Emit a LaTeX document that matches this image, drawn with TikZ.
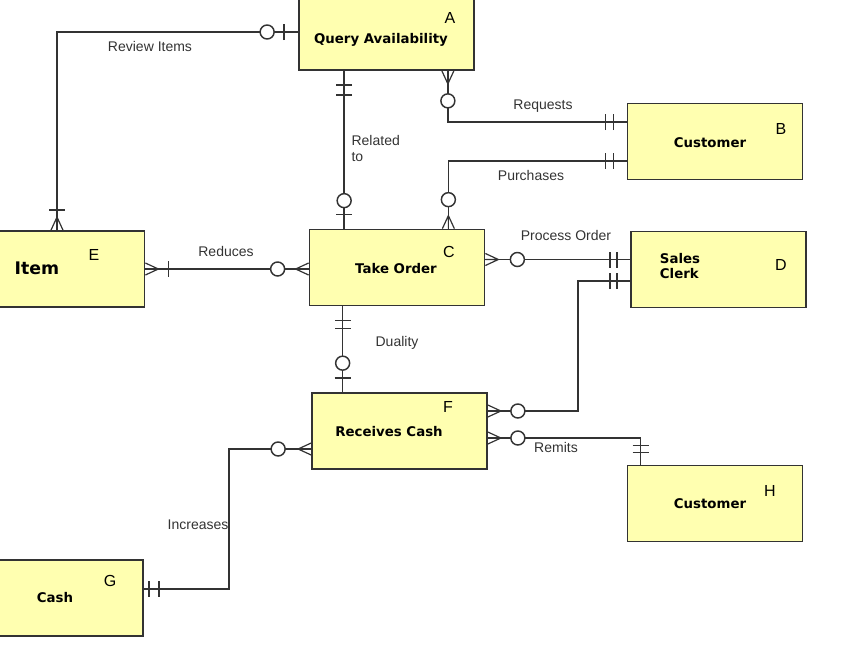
\documentclass[tikz,border=0pt]{standalone}
\usepackage{fontspec}
\setmainfont{Liberation Sans}
\newfontfamily\boxfont{DejaVu Sans}
\usepackage{tikz}
\usetikzlibrary{calc}
\definecolor{entfill}{HTML}{FFFFB0}
\definecolor{ink}{HTML}{333333}

\begin{document}
\begin{tikzpicture}[x=0.75pt,y=-0.75pt,
    entity/.style={draw=ink,fill=entfill,line width=1.3pt,minimum width=131.25pt,minimum height=57pt,inner sep=0pt},
    title/.style={font=\boxfont\bfseries\fontsize{10}{11.5}\selectfont,align=left,inner sep=0pt},
    tag/.style={font=\fontsize{12}{12}\selectfont,inner sep=0pt},
    rel/.style={font=\fontsize{10.5}{11.5}\selectfont,text=ink,align=left,inner sep=1pt},
    link/.style={draw=ink,line width=1.2pt},
    pics/crow/.style={code={\draw[ink,line width=0.9pt] (0,-6)--(13,0)--(0,6) (0,0)--(13,0);}},
    pics/bar/.style={code={\draw[ink,line width=1.1pt] (#1,-8)--(#1,8);}},
    pics/ring/.style={code={\draw[ink,line width=1.1pt,fill=white] (#1,0) circle[radius=7];}}]
  \useasboundingbox (0,0) rectangle (859,671);

  % entities
  \node[entity] (A) at (386.5,32) {};
  \node[entity] (B) at (715,141.5) {};
  \node[entity] (C) at (397,267.5) {};
  \node[entity] (D) at (718.5,269.5) {};
  \node[entity] (E) at (57,269) {};
  \node[entity] (F) at (399.5,431) {};
  \node[entity] (G) at (55.5,598) {};
  \node[entity] (H) at (715,503.5) {};

  \node[title] (At) at (381,40) {Query Availability};
  \node[title] (Bt) at (710,143) {Customer};
  \node[title] (Ct) at (396,269) {Take Order};
  \node[title] (Dt) at (680,266) {Sales\\Clerk};
  \node[title,font=\boxfont\bfseries\fontsize{13}{14}\selectfont] (Et) at (37,268) {Item};
  \node[title] (Ft) at (389,432) {Receives Cash};
  \node[title] (Gt) at (55,598) {Cash};
  \node[title] (Ht) at (710,504) {Customer};

  \foreach \n/\x/\y in {A/450/18,B/781/129,C/449/252,D/781/265,E/94/255,F/448/407,G/110/581,H/770/491}{
    \node[tag] (tag\n) at (\x,\y) {\n};
  }

  % Review Items
  \draw[link] (A.west) -| (E.north);
  \pic[rotate=180] at (A.west) {bar=14};
  \pic[rotate=180] at (A.west) {ring=31};
  \pic[rotate=90] at (E.north) {crow};
  \pic[rotate=90] at (E.north) {bar=20};

  % Related to
  \coordinate (a1) at ($(A.south west)+(46,0)$);
  \coordinate (c1) at (a1 |- C.north);
  \draw[link] (a1) -- (c1);
  \pic[rotate=-90] at (a1) {bar=14};
  \pic[rotate=-90] at (a1) {bar=24};
  \pic[rotate=90] at (c1) {bar=14};
  \pic[rotate=90] at (c1) {ring=28};

  % Requests
  \coordinate (a2) at ($(A.south east)+(-27,0)$);
  \coordinate (b1) at ($(B.west)+(0,-19.5)$);
  \draw[link] (a2) |- (b1);
  \pic[rotate=-90] at (a2) {crow};
  \pic[rotate=-90] at (a2) {ring=30};
  \pic[rotate=180] at (b1) {bar=13};
  \pic[rotate=180] at (b1) {bar=21};

  % Purchases
  \coordinate (c2) at ($(C.north east)+(-37,0)$);
  \coordinate (b2) at ($(B.west)+(0,19.5)$);
  \draw[link] (c2) |- (b2);
  \pic[rotate=90] at (c2) {crow};
  \pic[rotate=90] at (c2) {ring=29};
  \pic[rotate=180] at (b2) {bar=13};
  \pic[rotate=180] at (b2) {bar=21};

  % Reduces
  \coordinate (c3) at (E.east -| C.west);
  \draw[link] (E.east) -- (c3);
  \pic at (E.east) {crow};
  \pic at (E.east) {bar=23};
  \pic[rotate=180] at (c3) {crow};
  \pic[rotate=180] at (c3) {ring=31};

  % Process Order
  \coordinate (c4) at ($(C.east)+(0,-8)$);
  \coordinate (d1) at (c4 -| D.west);
  \draw[link] (c4) -- (d1);
  \pic at (c4) {crow};
  \pic at (c4) {ring=32};
  \pic[rotate=180] at (d1) {bar=13};
  \pic[rotate=180] at (d1) {bar=20};

  % Duality
  \coordinate (c5) at ($(C.south west)+(34,0)$);
  \coordinate (f1) at (c5 |- F.north);
  \draw[link] (c5) -- (f1);
  \pic[rotate=-90] at (c5) {bar=14};
  \pic[rotate=-90] at (c5) {bar=22};
  \pic[rotate=90] at (f1) {bar=14};
  \pic[rotate=90] at (f1) {ring=29};

  % Receives Cash -- Sales Clerk
  \coordinate (f2) at ($(F.east)+(0,-20)$);
  \coordinate (d2) at ($(D.west)+(0,11.5)$);
  \draw[link] (f2) -| ($(d2)+(-52,0)$) |- (d2);
  \pic at (f2) {crow};
  \pic at (f2) {ring=30};
  \pic[rotate=180] at (d2) {bar=13};
  \pic[rotate=180] at (d2) {bar=20};

  % Remits
  \coordinate (f3) at ($(F.east)+(0,7)$);
  \coordinate (h1) at ($(H.north west)+(14,0)$);
  \draw[link] (f3) -| (h1);
  \pic at (f3) {crow};
  \pic at (f3) {ring=30};
  \pic[rotate=90] at (h1) {bar=12};
  \pic[rotate=90] at (h1) {bar=19};

  % Increases
  \coordinate (g1) at ($(G.east)+(0,-9)$);
  \coordinate (f4) at ($(F.west)+(0,18)$);
  \draw[link] (g1) -| ($(f4)+(-82,0)$) |- (f4);
  \pic at (g1) {bar=5};
  \pic at (g1) {bar=15};
  \pic[rotate=180] at (f4) {crow};
  \pic[rotate=180] at (f4) {ring=33};

  % relationship names
  \node[rel] (lrev) at (150,46) {Review Items};
  \node[rel,anchor=north west] (lrel) at (350,134) {Related\\to};
  \node[rel] (lreq) at (543,106) {Requests};
  \node[rel] (lpur) at (531,175) {Purchases};
  \node[rel] (lred) at (226,251) {Reduces};
  \node[rel] (lpro) at (566,235) {Process Order};
  \node[rel] (ldua) at (397,343) {Duality};
  \node[rel] (lrem) at (556,447) {Remits};
  \node[rel,anchor=east] (linc) at (230,525) {Increases};
\end{tikzpicture}
\end{document}
